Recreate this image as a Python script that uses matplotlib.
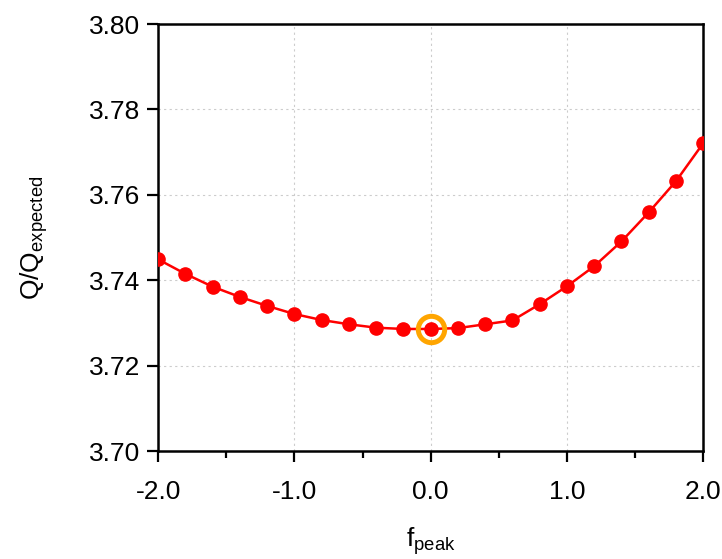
import numpy as np
import matplotlib
matplotlib.use("Agg")
import matplotlib.pyplot as plt
from matplotlib.ticker import MultipleLocator, FormatStrFormatter

plt.rcParams['font.family'] = ['Liberation Sans', 'DejaVu Sans']
plt.rcParams['mathtext.fontset'] = 'custom'
plt.rcParams['mathtext.rm'] = 'Liberation Sans'

# data
f_peak = [-2.0, -1.8, -1.6, -1.4, -1.2, -1.0, -0.8, -0.6, -0.4, -0.2, 0.0,
          0.2, 0.4, 0.6, 0.8, 1.0, 1.2, 1.4, 1.6, 1.8, 2.0]
q_ratio = [3.7449, 3.7415, 3.7385, 3.7361, 3.7340, 3.7321, 3.7307, 3.7297,
           3.7289, 3.7286, 3.7286, 3.7288, 3.7297, 3.7306, 3.7344, 3.7386,
           3.7433, 3.7491, 3.7559, 3.7632, 3.7721]
highlight_x = [0.0]
highlight_y = [3.7286]

fig = plt.figure(figsize=(7.22, 5.59), dpi=100)
ax = fig.add_axes([0.219, 0.193, 0.755, 0.764])

ax.plot(f_peak, q_ratio, '-', color='red', lw=1.8, zorder=3)
ax.plot(f_peak, q_ratio, 'o', color='red', ms=9.5, zorder=4)
ax.plot(highlight_x, highlight_y, 'o', mfc='none', mec='orange', ms=19, mew=3.6, zorder=5)

ax.set_xlim(-2.0, 2.0)
ax.set_ylim(3.70, 3.80)
ax.xaxis.set_major_locator(MultipleLocator(1.0))
ax.xaxis.set_minor_locator(MultipleLocator(0.5))
ax.yaxis.set_major_locator(MultipleLocator(0.02))
ax.xaxis.set_major_formatter(FormatStrFormatter('%.1f'))
ax.yaxis.set_major_formatter(FormatStrFormatter('%.2f'))

ax.grid(True, which='major', ls=(0, (2, 3)), color='#cccccc', lw=0.8)
ax.set_axisbelow(True)

for s in ax.spines.values():
    s.set_linewidth(1.8)
    s.set_color('black')

ax.tick_params(axis='both', which='major', direction='out', length=8, width=1.6,
               labelsize=19, pad=5)
ax.tick_params(axis='x', which='major', pad=13)
ax.tick_params(axis='x', which='minor', direction='out', length=5, width=1.6)
ax.tick_params(axis='y', which='minor', left=False)

ax.set_xlabel(r'f$_\mathregular{peak}$', fontsize=19, labelpad=15)
ax.set_ylabel(r'Q/Q$_\mathregular{expected}$', fontsize=19, labelpad=28)

fig.savefig('out.png', dpi=100)
